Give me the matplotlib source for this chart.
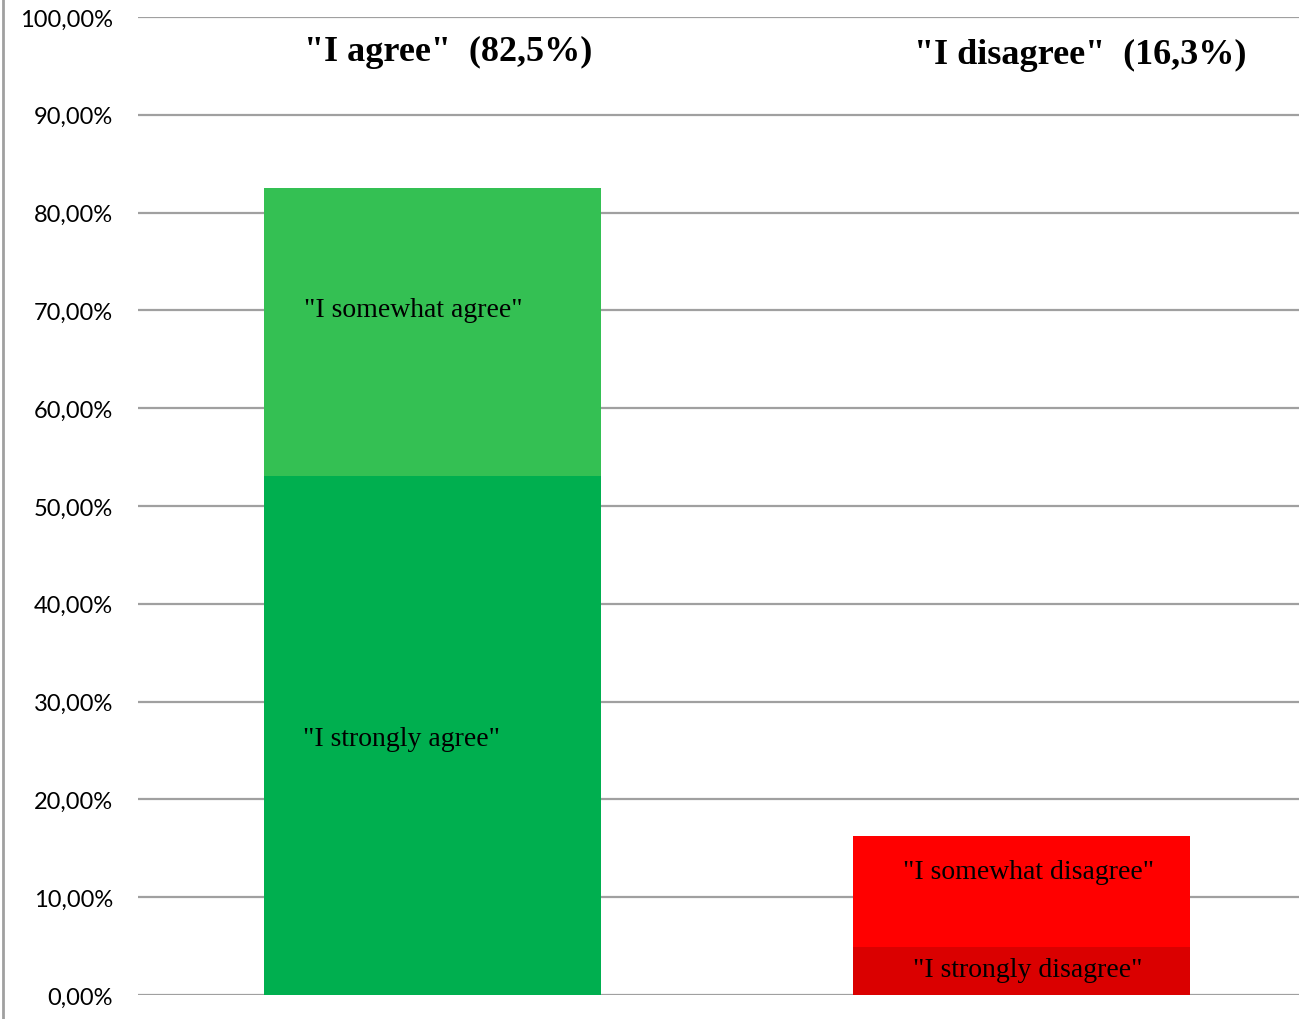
import numpy as np
import matplotlib.pyplot as plt
from matplotlib.lines import Line2D

# data (shares of respondents, %)
groups = ['agree', 'disagree']
strongly = [53.1, 4.9]
somewhat = [29.4, 11.4]
totals = ['"I agree"  (82,5%)', '"I disagree"  (16,3%)']
strong_labels = ['"I strongly agree"', '"I strongly disagree"']
some_labels = ['"I somewhat agree"', '"I somewhat disagree"']
yticks = np.arange(0, 101, 10)

strong_colors = ['#00AF4F', '#DA0000']
some_colors = ['#34C053', '#FF0000']

W, H = 1299, 1020
fig = plt.figure(figsize=(W / 100, H / 100), dpi=100)
ax = fig.add_axes([138 / W, 24 / H, (1316 - 138) / W, (996 - 18) / H])

x = np.arange(len(groups))
bw = 0.572
ax.bar(x, strongly, width=bw, color=strong_colors, zorder=3)
ax.bar(x, somewhat, width=bw, bottom=strongly, color=some_colors, zorder=3)

ax.set_xlim(-0.5, 1.5)
ax.set_ylim(0, 100)
ax.set_yticks(yticks)
ax.set_yticklabels([f'{v:.2f}'.replace('.', ',') + '%' for v in yticks],
                   fontsize=17, family='Lato')
ax.tick_params(axis='y', length=0, pad=18)
ax.set_xticks([])
for s in ax.spines.values():
    s.set_visible(False)
ax.grid(axis='y', color='#A0A0A0', linewidth=1.6, zorder=0)
ax.set_axisbelow(True)

serif = ['Liberation Serif', 'DejaVu Serif']
# segment labels
some_shift = [2.3, 2.0]
strong_shift = [-0.35, 0.2]
strong_dx = [-0.052, 0.01]
some_dx = [-0.033, 0.012]
for i in range(len(groups)):
    ax.text(x[i] + strong_dx[i], strongly[i] / 2 + strong_shift[i], strong_labels[i],
            ha='center', va='center', fontsize=20, family=serif, zorder=4)
    ax.text(x[i] + some_dx[i], strongly[i] + somewhat[i] / 2 + some_shift[i], some_labels[i],
            ha='center', va='center', fontsize=20, family=serif, zorder=4)

# group totals on top
top_x = [0.027, 1.1]
top_y = [96.5, 96.2]
for i in range(len(groups)):
    ax.text(top_x[i], top_y[i], totals[i], ha='center', va='center',
            fontsize=26, fontweight='bold', family=serif, zorder=4)

# left border line
fig.add_artist(Line2D([3 / W, 3 / W], [0, 1], color='#A0A0A0', linewidth=2))

fig.savefig('out.png', dpi=100)
